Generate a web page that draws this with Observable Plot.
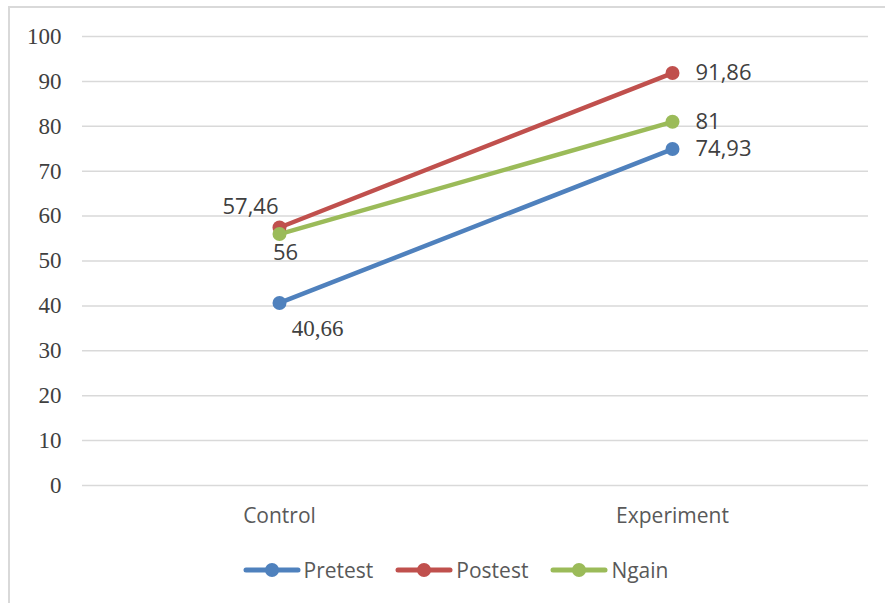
<!DOCTYPE html>
<html><head><meta charset="utf-8">
<script src="https://cdn.jsdelivr.net/npm/d3@7"></script>
<script src="https://cdn.jsdelivr.net/npm/@observablehq/plot@0.6"></script>
<style>
body{margin:0;background:#fff;width:885px;height:603px;overflow:hidden;position:relative}
#frame{position:absolute;left:8px;top:6px;width:900px;height:700px;border-left:2px solid #d9d9d9;border-top:2px solid #d9d9d9;pointer-events:none}
#chart{position:absolute;left:0;top:0}
#legend{position:absolute;left:13px;top:556px;width:885px;display:flex;justify-content:center;gap:22px;font-family:"Open Sans",sans-serif;font-size:21px;color:#595959;line-height:28px}
.item{display:flex;align-items:center;gap:3px}
</style></head><body>
<div id="chart"></div>
<div id="legend"></div>
<div id="frame"></div>
<script>
const categories = ["Control", "Experiment"];
const seriesNames = ["Pretest", "Postest", "Ngain"];
const pretest = [40.66, 74.93];
const postest = [57.46, 91.86];
const ngain = [56, 81];
const labels = {Pretest: ["40,66", "74,93"], Postest: ["57,46", "91,86"], Ngain: ["56", "81"]};
const colors = ["#4f81bd", "#c0504d", "#9bbb59"];
const yTicks = [0,10,20,30,40,50,60,70,80,90,100];

const values = {Pretest: pretest, Postest: postest, Ngain: ngain};
const data = seriesNames.flatMap(s => categories.map((c,i) => ({series:s, cat:c, value:values[s][i], label:labels[s][i]})));
const color = {domain: seriesNames, range: colors};

const left = data.filter(d => d.cat === "Control");
const right = data.filter(d => d.cat === "Experiment");
const offs = {Postest:[-29,-21], Ngain:[6,19], Pretest:[38,26]};
const SERIF = "Liberation Serif";
const SANS = "Open Sans";

const plot = Plot.plot({
  width: 885, height: 550,
  marginLeft: 82, marginRight: 17, marginTop: 36, marginBottom: 65,
  x: {type:"point", domain: categories, padding: 0.5, label: null},
  y: {domain:[0,100], ticks: yTicks, label: null},
  color,
  marks: [
    Plot.ruleY(yTicks, {stroke:"#d9d9d9", strokeWidth:1.5}),
    Plot.axisY({ticks: yTicks, tickSize:0, tickPadding:21, fontSize:23, fontFamily:SERIF, className:"serif", fill:"#404040", label:null}),
    Plot.axisX({tickSize:0, tickPadding:23, fontSize:21, fontFamily:SANS, className:"sans", fill:"#595959", label:null}),
    Plot.line(data, {x:"cat", y:"value", z:"series", stroke:"series", strokeWidth:4.5, strokeLinecap:"round"}),
    Plot.dot(data, {x:"cat", y:"value", fill:"series", r:7}),
    ...seriesNames.map(s => Plot.text(left.filter(d => d.series===s), {x:"cat", y:"value", text:"label", dx:offs[s][0], dy:offs[s][1], fontSize: s==="Pretest" ? 23 : 22, fill:"#404040", fontFamily: s==="Pretest" ? SERIF : SANS})),
    Plot.text(right, {x:"cat", y:"value", text:"label", dx:23, textAnchor:"start", fontSize:22, fill:"#404040", fontFamily:SANS})
  ]
});
const serifLabels = new Set([labels.Pretest[0], ...yTicks.map(String)]);
d3.select(plot).selectAll("text").each(function(){
  if (serifLabels.has(this.textContent)) this.style.fontFamily = SERIF;
});
document.getElementById("chart").appendChild(plot);

const lg = document.getElementById("legend");
seriesNames.forEach((s,i) => {
  const it = document.createElement("div"); it.className="item";
  it.innerHTML = `<svg width="58" height="16"><line x1="3" y1="8" x2="55" y2="8" stroke="${colors[i]}" stroke-width="5" stroke-linecap="round"/><circle cx="29" cy="8" r="7" fill="${colors[i]}"/></svg><span>${s}</span>`;
  lg.appendChild(it);
});
</script>
</body></html>
